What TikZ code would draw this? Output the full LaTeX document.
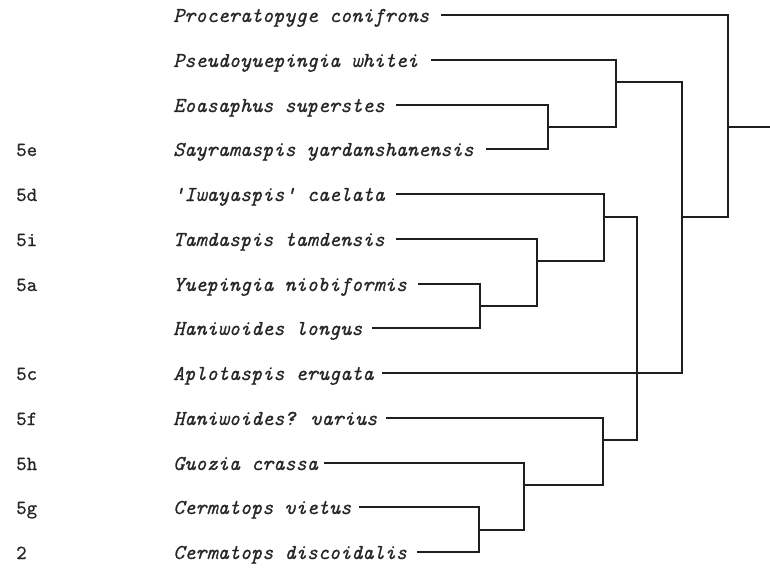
\documentclass[tikz,border=0pt]{standalone}
\usepackage{fontspec}
\newfontfamily\taxfont[Extension=.otf,UprightFont=*-regular,ItalicFont=*-italic,FakeBold=0.6]{lmmono10}
\begin{document}
\begin{tikzpicture}[x=1pt,y=-1pt,
  taxon/.style={anchor=base west,inner sep=0pt,font=\taxfont\itshape\fontsize{21.2}{24}\selectfont,text=black!85},
  code/.style={anchor=base west,inner sep=0pt,font=\taxfont\fontsize{20}{24}\selectfont,text=black!85},
  branch/.style={draw=black!88,line width=1.5pt,line cap=rect}]
\useasboundingbox (0,0) rectangle (770,567);
% taxa
\node[taxon] (t0) at (173,22) {Proceratopyge conifrons};
\node[taxon] (t1) at (173,67) {Pseudoyuepingia whitei};
\node[taxon] (t2) at (173,112) {Eoasaphus superstes};
\node[taxon] (t3) at (173,156) {Sayramaspis yardanshanensis};
\node[taxon] (t4) at (173,201) {'Iwayaspis' caelata};
\node[taxon] (t5) at (173,246) {Tamdaspis tamdensis};
\node[taxon] (t6) at (173,291) {Yuepingia niobiformis};
\node[taxon] (t7) at (173,335) {Haniwoides longus};
\node[taxon] (t8) at (173,380) {Aplotaspis erugata};
\node[taxon] (t9) at (173,425) {Haniwoides? varius};
\node[taxon] (t10) at (173,470) {Guozia crassa};
\node[taxon] (t11) at (173,514) {Cermatops vietus};
\node[taxon] (t12) at (173,559) {Cermatops discoidalis};
% codes
\node[code] (c3) at (16,156) {5e};
\node[code] (c4) at (16,201) {5d};
\node[code] (c5) at (16,246) {5i};
\node[code] (c6) at (16,291) {5a};
\node[code] (c8) at (16,380) {5c};
\node[code] (c9) at (16,425) {5f};
\node[code] (c10) at (16,470) {5h};
\node[code] (c11) at (16,514) {5g};
\node[code] (c12) at (16,559) {2};
% branch starts
\coordinate (s0) at (442,15);
\coordinate (s1) at (432,60);
\coordinate (s2) at (397,105);
\coordinate (s3) at (487,149);
\coordinate (s4) at (397,194);
\coordinate (s5) at (397,239);
\coordinate (s6) at (419,284);
\coordinate (s7) at (373,328);
\coordinate (s8) at (383,373);
\coordinate (s9) at (387,418);
\coordinate (s10) at (325,463);
\coordinate (s11) at (360,507);
\coordinate (s12) at (418,552);
% junctions
\coordinate (nA) at (548,127);
\coordinate (nB) at (616,82);
\coordinate (nC) at (480,306);
\coordinate (nD) at (537,261);
\coordinate (nE) at (604,217);
\coordinate (nF) at (479,530);
\coordinate (nG) at (524,485);
\coordinate (nH) at (603,440);
\coordinate (nI) at (637,440);
\coordinate (nJ) at (682,217);
\coordinate (nR) at (728,127);
\coordinate (root) at (770,127);
% upper clade
\draw[branch] (s2) -| (nA) |- (s3);
\draw[branch] (s1) -| (nB) |- (nA);
% middle clade
\draw[branch] (s6) -| (nC) |- (s7);
\draw[branch] (s5) -| (nD) |- (nC);
\draw[branch] (s4) -| (nE) |- (nD);
% lower clade
\draw[branch] (s11) -| (nF) |- (s12);
\draw[branch] (s10) -| (nG) |- (nF);
\draw[branch] (s9) -| (nH) |- (nG);
\draw[branch] (nE) -| (nI) -- (nH);
% connecting
\draw[branch] (nB) -| (nJ) |- (s8);
\draw[branch] (s0) -| (nR) |- (nJ);
\draw[branch] (nR) -- (root);
\end{tikzpicture}
\end{document}
